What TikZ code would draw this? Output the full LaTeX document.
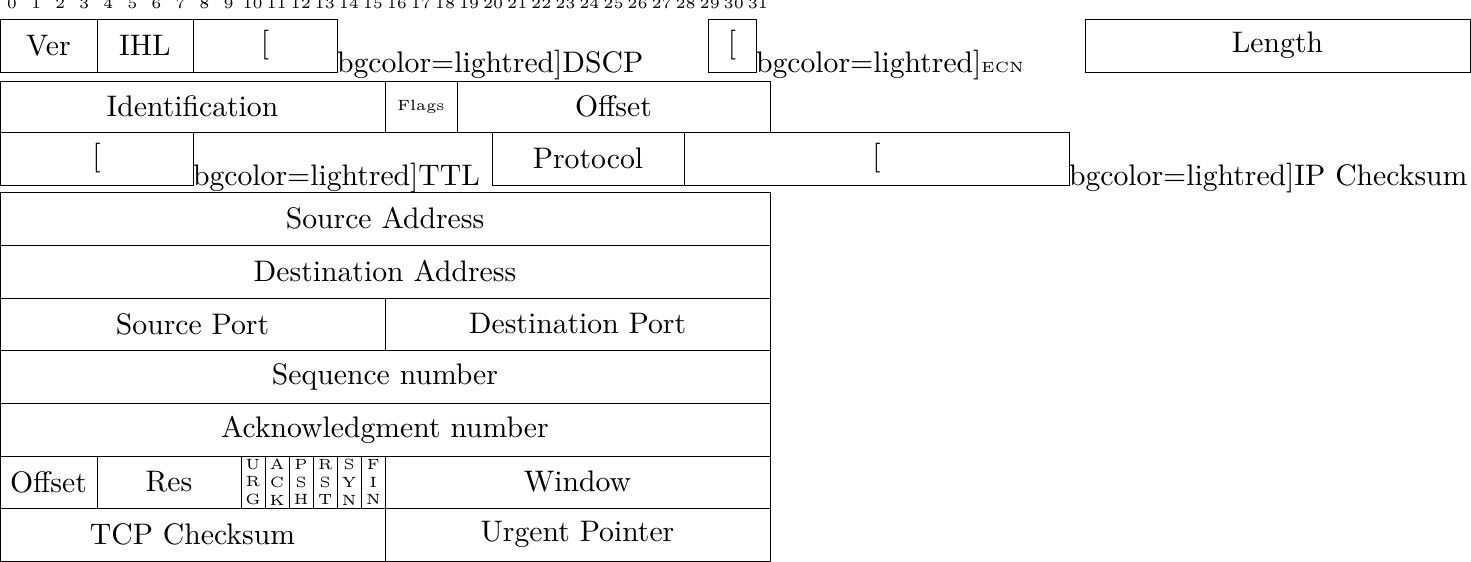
\documentclass[tikz,border=0pt]{standalone}
\usepackage{tikz}
\usetikzlibrary{positioning}

\tikzset{
    field/.style={draw, line width=0.3pt, inner sep=0pt, outer sep=0pt, anchor=north west, align=center},
    broken/.style={anchor=base west, inner sep=0pt, outer sep=0pt},
}

% name, x1, x2, y1, y2, text
\newcommand{\fld}[6]{%
    \node[field, minimum width={((#3)-(#2))*\pxu}, minimum height={((#5)-(#4))*\pxu}] (#1) at (#2,#4) {#6};}

\begin{document}
\begin{tikzpicture}[x=0.3367pt, y=-0.3367pt]
    \def\pxu{0.3367pt} % one pixel
    \def\bw{24.06} % width of one bit
    \useasboundingbox (0,0) rectangle (1471,562);

    % Bit numbers
    \foreach \b in {0,...,31} {
        \node[anchor=base, font=\tiny, inner sep=0pt] (bit\b) at ({\bw/2+\bw*\b}, 8.5) {\b};
    }

    % IP header, first word
    \fld{ver}{0}{97}{19}{72}{Ver}
    \fld{ihl}{97}{193}{19}{72}{IHL}
    \fld{dscp}{193}{337}{19}{72}{[}
    \node[broken] (dscptext) at (dscp.south east) {bgcolor=lightred]DSCP};
    \fld{ecn}{708}{756}{19}{72}{[}
    \node[broken] (ecntext) at (ecn.south east) {bgcolor=lightred]{\tiny ECN}};
    \fld{len}{1085}{1470}{19}{72}{Length}

    % Second word
    \fld{ident}{0}{385}{81}{132}{Identification}
    \fld{ipflags}{385}{457}{81}{132}{\tiny Flags}
    \fld{fragoff}{457}{770}{81}{132}{Offset}

    % Third word
    \fld{ttl}{0}{193}{132}{185}{[}
    \node[broken] (ttltext) at (ttl.south east) {bgcolor=lightred]TTL};
    \fld{proto}{492}{684}{132}{185}{Protocol}
    \fld{ipchk}{684}{1069}{132}{185}{[}
    \node[broken] (ipchktext) at (ipchk.south east) {bgcolor=lightred]IP Checksum};

    % Addresses
    \fld{srcaddr}{0}{770}{192}{245}{Source Address}
    \fld{dstaddr}{0}{770}{245}{298}{Destination Address}

    % TCP header
    \fld{sport}{0}{385}{298}{350}{Source Port}
    \fld{dport}{385}{770}{298}{350}{Destination Port}
    \fld{seq}{0}{770}{350}{403}{Sequence number}
    \fld{acknum}{0}{770}{403}{456}{Acknowledgment number}
    \fld{dataoff}{0}{97}{456}{508}{Offset}
    \fld{res}{97}{241}{456}{508}{Res}
    \foreach \ta/\tb/\tc [count=\i from 0] in {U/R/G, A/C/K, P/S/H, R/S/T, S/Y/N, F/I/N} {
        \node[field, font=\tiny, minimum width={\bw*\pxu}, minimum height={52*\pxu}]
            (flag\i) at ({241+\bw*\i}, 456) {\ta\\\tb\\\tc};
    }
    \fld{window}{385}{770}{456}{508}{Window}
    \fld{tcpchk}{0}{385}{508}{561}{TCP Checksum}
    \fld{urgent}{385}{770}{508}{561}{Urgent Pointer}

\end{tikzpicture}
\end{document}
